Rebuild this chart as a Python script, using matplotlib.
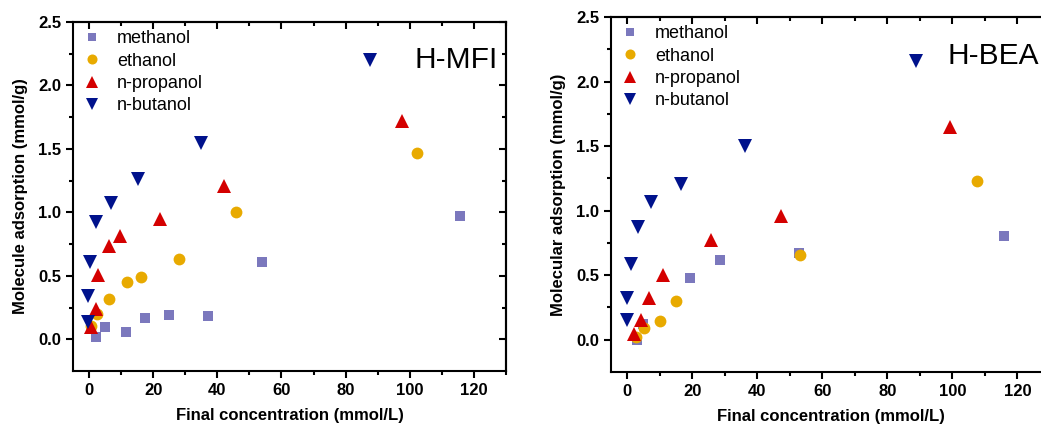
import matplotlib.pyplot as plt

plt.rcParams['font.family'] = ['Liberation Sans', 'DejaVu Sans']

series_names = ['methanol', 'ethanol', 'n-propanol', 'n-butanol']

# H-MFI
mfi_methanol_x = [2.1, 4.9, 11.6, 17.5, 25.0, 37.2, 54.0, 115.8]
mfi_methanol_y = [0.02, 0.095, 0.06, 0.17, 0.19, 0.18, 0.605, 0.968]
mfi_ethanol_x = [0.5, 2.6, 6.3, 11.7, 16.3, 28.1, 45.9, 102.4]
mfi_ethanol_y = [0.105, 0.20, 0.32, 0.455, 0.487, 0.63, 1.005, 1.468]
mfi_propanol_x = [0.7, 2.3, 2.7, 6.3, 9.5, 22.0, 42.1, 97.6]
mfi_propanol_y = [0.10, 0.24, 0.51, 0.734, 0.81, 0.95, 1.21, 1.72]
mfi_butanol_x = [-0.2, -0.2, 0.4, 2.1, 7.0, 15.3, 35.0, 87.5]
mfi_butanol_y = [0.14, 0.34, 0.61, 0.925, 1.075, 1.26, 1.545, 2.2]

# H-BEA
bea_methanol_x = [3.0, 4.8, 19.4, 28.5, 52.7, 115.9]
bea_methanol_y = [0.0, 0.12, 0.477, 0.617, 0.675, 0.80]
bea_ethanol_x = [2.6, 5.1, 9.95, 15.1, 53.0, 107.4]
bea_ethanol_y = [0.02, 0.09, 0.146, 0.30, 0.66, 1.23]
bea_propanol_x = [2.05, 4.1, 6.6, 11.0, 25.6, 47.2, 99.2]
bea_propanol_y = [0.045, 0.15, 0.325, 0.505, 0.776, 0.958, 1.65]
bea_butanol_x = [0.0, 0.0, 1.0, 3.3, 7.4, 16.6, 36.1, 88.9]
bea_butanol_y = [0.155, 0.32, 0.586, 0.875, 1.07, 1.21, 1.50, 2.16]

colors = ['#7B78BD', '#E8AA00', '#D40000', '#00128C']
markers = ['s', 'o', '^', 'v']
sizes = [7, 8.5, 10, 10]

W, H = 1041, 428
fig = plt.figure(figsize=(W / 100, H / 100), dpi=100)


def panel(rect, data, ylabel):
    ax = fig.add_axes(rect)
    for (x, y), name, c, m, ms in zip(data, series_names, colors, markers, sizes):
        ax.plot(x, y, linestyle='none', marker=m, color=c, markersize=ms,
                markeredgewidth=0, label=name)
    ax.set_xlim(-5, 130)
    ax.set_ylim(-0.25, 2.5)
    ax.set_xticks(range(0, 121, 20))
    ax.set_xticks(range(0, 131, 10), minor=True)
    ax.set_yticks([0, 0.5, 1.0, 1.5, 2.0, 2.5])
    ax.set_yticks([0.25, 0.75, 1.25, 1.75, 2.25], minor=True)
    ax.set_yticklabels(['0.0', '0.5', '1.0', '1.5', '2.0', '2.5'])
    ax.tick_params(which='major', direction='out', length=5, width=1.5,
                   labelsize=12)
    ax.tick_params(which='minor', direction='out', length=3, width=1.5)
    for lbl in ax.get_xticklabels() + ax.get_yticklabels():
        lbl.set_fontweight('bold')
    for s in ax.spines.values():
        s.set_linewidth(1.5)

    # mirrored ticks pointing inward
    top = ax.secondary_xaxis('top')
    top.set_xticks(range(0, 121, 20))
    top.set_xticks(range(0, 131, 10), minor=True)
    top.tick_params(which='major', direction='in', length=5, width=1.5,
                    labeltop=False)
    top.tick_params(which='minor', direction='in', length=3, width=1.5)
    top.spines['top'].set_linewidth(1.5)
    right = ax.secondary_yaxis('right')
    right.set_yticks([0, 0.5, 1.0, 1.5, 2.0, 2.5])
    right.set_yticks([0.25, 0.75, 1.25, 1.75, 2.25], minor=True)
    right.tick_params(which='major', direction='in', length=5, width=1.5,
                      labelright=False)
    right.tick_params(which='minor', direction='in', length=3, width=1.5)
    right.spines['right'].set_linewidth(1.5)

    ax.set_xlabel('Final concentration (mmol/L)', fontsize=12,
                  fontweight='bold', labelpad=7)
    ax.set_ylabel(ylabel, fontsize=12, fontweight='bold', labelpad=7)
    ax.legend(loc='upper left', frameon=False, fontsize=13,
              handletextpad=0.8, labelspacing=0.3, borderaxespad=0.05,
              handlelength=1.2, markerscale=0.85)
    return ax


ax1 = panel([73 / W, (H - 371) / H, (506 - 73) / W, (371 - 22) / H],
            [(mfi_methanol_x, mfi_methanol_y), (mfi_ethanol_x, mfi_ethanol_y),
             (mfi_propanol_x, mfi_propanol_y), (mfi_butanol_x, mfi_butanol_y)],
            'Molecule adsorption (mmol/g)')
ax1.text(0.98, 0.89, 'H-MFI', transform=ax1.transAxes, ha='right',
         va='center', fontsize=21.5)

ax2 = panel([611 / W, (H - 372) / H, 439 / W, (372 - 17) / H],
            [(bea_methanol_x, bea_methanol_y), (bea_ethanol_x, bea_ethanol_y),
             (bea_propanol_x, bea_propanol_y), (bea_butanol_x, bea_butanol_y)],
            'Molecular adsorption (mmol/g)')
ax2.text(0.975, 0.89, 'H-BEA', transform=ax2.transAxes, ha='right',
         va='center', fontsize=21.5)

fig.savefig('out.png', dpi=100)
